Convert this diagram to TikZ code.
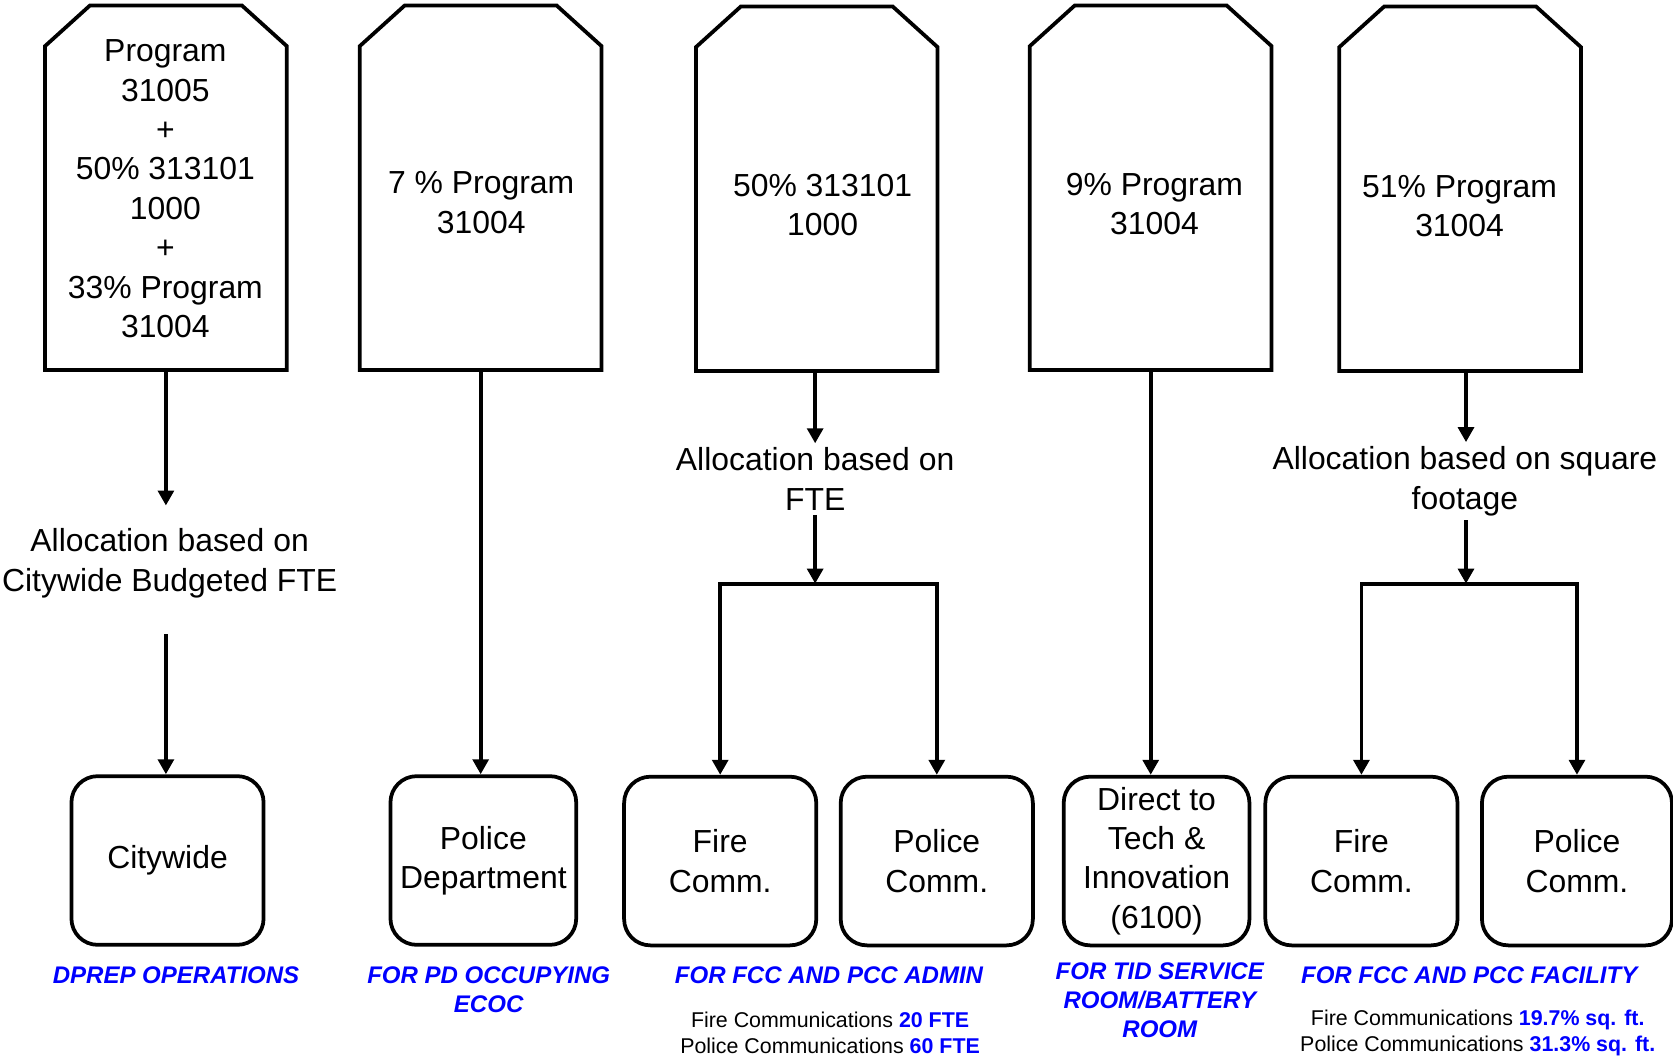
\documentclass[tikz,border=0pt]{standalone}
\usepackage{fontspec}
\setmainfont{Liberation Sans}
\usetikzlibrary{positioning, calc, arrows.meta}
\definecolor{tagblue}{RGB}{0,0,255}
\tikzset{
	every node/.style={font=\fontsize{8.5}{10.5}\selectfont, align=center},
	boxline/.style={line width=1pt, line join=miter},
	prog/.style={minimum width=2.25cm, minimum height=3.4cm, inner sep=0pt},
	unit/.style={draw, line width=1pt, rounded corners=7pt, minimum width=1.8cm, minimum height=1.58cm, inner sep=1pt},
	alloc/.style={inner sep=1pt},
	arr/.style={line width=1pt, -{Triangle[length=4pt,width=4.2pt]}},
	tag/.style={text=tagblue, font=\fontsize{6.4}{7.7}\selectfont\bfseries\itshape},
	note/.style={font=\fontsize{5.7}{6.8}\selectfont}}

% outline of a program box (top corners cut)
\newcommand{\chamferbox}[1]{%
	\draw[boxline] (#1.south west) -- ($(#1.north west)+(0,38)$) -- ($(#1.north west)+(42,0)$)
	-- ($(#1.north east)+(-42,0)$) -- ($(#1.north east)+(0,38)$) -- (#1.south east) -- cycle;}

\begin{document}
\begin{tikzpicture}[x=0.01cm, y=-0.01cm]
	\useasboundingbox (0,0) rectangle (1568,991);
	
	% program boxes
	\node[prog] (p1) at (155.5,176) {};
	\node[prog] (p2) at (450.5,176) {};
	\node[prog] (p3) at (765.5,177) {};
	\node[prog] (p4) at (1078.5,176) {};
	\node[prog] (p5) at (1368.5,177) {};
	\chamferbox{p1}
	\chamferbox{p2}
	\chamferbox{p3}
	\chamferbox{p4}
	\chamferbox{p5}
	
	\node (t1) at (155,177) {Program\\31005\\+\\50\% 313101\\1000\\+\\33\% Program\\31004};
	\node (t2) at (451,190) {7 \% Program\\31004};
	\node (t3) at (771,192) {50\% 313101\\1000};
	\node (t4) at (1082,191) {9\% Program\\31004};
	\node (t5) at (1368,193) {51\% Program\\31004};
	
	% allocation texts
	\node[alloc] (a1) at (159,528) {Allocation based on\\Citywide Budgeted FTE};
	\node[alloc] (a3) at (764,449) {Allocation based on\\FTE};
	\node[alloc] (a5) at (1373,451) {Allocation based on square\\footage};
	
	% receiving units
	\node[unit] (cw) at (157,806.5) {Citywide};
	\node[unit, minimum width=1.74cm] (pd) at (453,806.5) {Police\\Department};
	\node[unit] (fc1) at (675,807) {Fire\\Comm.};
	\node[unit] (pc1) at (878,807) {Police\\Comm.};
	\node[unit, minimum width=1.74cm] (dt) at (1084,807) {Direct to\\Tech \&\\Innovation\\(6100)};
	\node[unit] (fc2) at (1276,807) {Fire\\Comm.};
	\node[unit, minimum width=1.78cm] (pc2) at (1478,807) {Police\\Comm.};
	
	\coordinate (j3) at (764,547);
	\coordinate (j5) at (1374,547);
	
	% purposes
	\node[tag] (l1) at (165,914) {DPREP OPERATIONS};
	\node[tag] (l2) at (458,927.5) {FOR PD OCCUPYING\\ECOC};
	\node[tag] (l3) at (777,914) {FOR FCC AND PCC ADMIN};
	\node[tag] (l4) at (1087,937.5) {FOR TID SERVICE\\ROOM/BATTERY\\ROOM};
	\node[tag] (l5) at (1377,914) {FOR FCC AND PCC FACILITY};
	\node[note] (n3) at (778,968) {Fire Communications \textbf{\textcolor{tagblue}{20 FTE}}\\Police Communications \textbf{\textcolor{tagblue}{60 FTE}}};
	\node[note] (n5) at (1385,968) {Fire Communications \textbf{\textcolor{tagblue}{19.7\% sq. ft.}}\\Police Communications \textbf{\textcolor{tagblue}{31.3\% sq. ft.}}};
	
	\draw[arr, shorten >=5pt] (p1.south) -- (p1.south |- a1.north);
	\draw[arr, shorten <=8.5pt] (p1.south |- a1.south) -- (cw.north -| p1.south);
	\draw[arr] (p2.south) -- (p2.south |- pd.north);
	\draw[arr] (p3.south -| a3.north) -- (a3.north);
	\draw[arr] (a3.south) -- (j3);
	\draw[arr] (j3) -| (fc1.north);
	\draw[arr] (j3) -| (pc1.north);
	\draw[arr] (p4.south) -- (p4.south |- dt.north);
	\draw[arr] (p5.south -| j5) -- (a5.north -| j5);
	\draw[arr] (a5.south -| j5) -- (j5);
	\draw[arr] (j5) -| (fc2.north);
	\draw[arr] (j5) -| (pc2.north);
	
\end{tikzpicture}
\end{document}
